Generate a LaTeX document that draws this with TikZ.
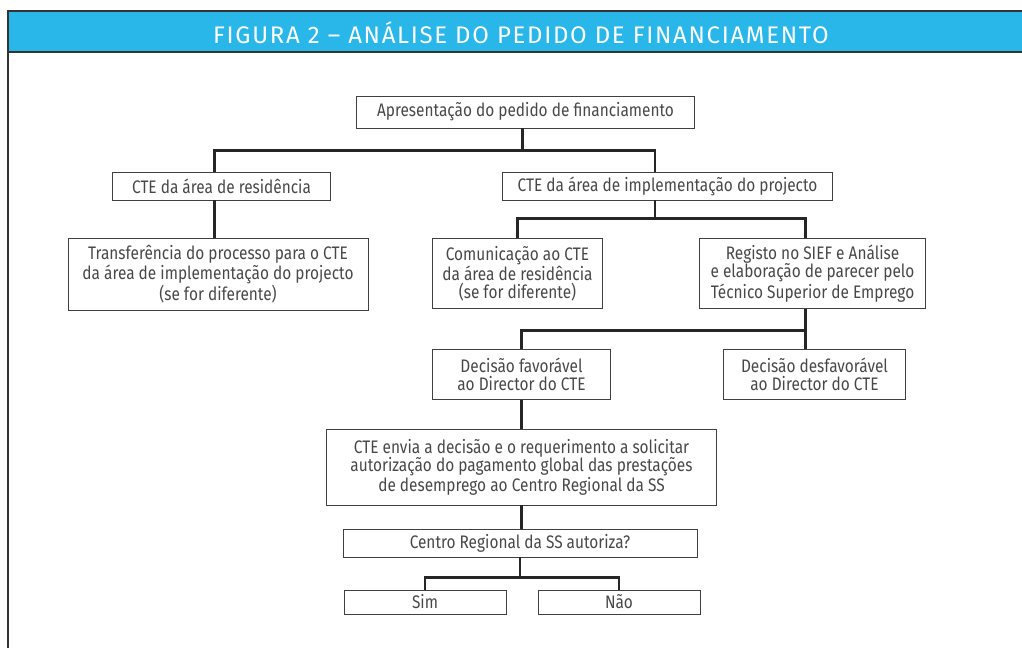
\documentclass[tikz,border=0pt]{standalone}
\usepackage{fontspec}
\setmainfont{Fira Sans}[FakeStretch=0.85]
\newfontfamily\titlefont{Fira Sans}[LetterSpace=7]
\usetikzlibrary{positioning}
\definecolor{figblue}{RGB}{41,182,233}
\definecolor{boxtext}{RGB}{72,72,72}

\begin{document}
\begin{tikzpicture}[x=0.75pt,y=-0.75pt,font=\fontsize{13.6}{13.6}\selectfont]
  \tikzstyle{box}=[draw=black!75, line width=0.7pt, text=boxtext, align=center, inner sep=0pt, minimum height=21pt]
  \tikzstyle{link}=[line width=2.2pt, black!85]

  % frame and title bar
  \useasboundingbox (0,0) rectangle (1022,648);
  \fill[figblue] (8,11) rectangle (1022,52);
  \draw[line width=1.5pt, black!80] (1022,11) -- (8,11) -- (8,648);
  \draw[line width=1.5pt, black!80] (8,52) -- (1022,52);
  \node[text=white, font=\titlefont\fontsize{18}{18}\selectfont] (title) at (521,33) {FIGURA 2 – ANÁLISE DO PEDIDO DE FINANCIAMENTO};

  \node[box, minimum width=254pt, minimum height=24pt] (apres) at (525.5,112) {Apresentação do pedido de financiamento};
  \node[box, minimum width=163pt] (res)  at (221.5,186) {CTE da área de residência};
  \node[box, minimum width=248pt] (impl) at (667.5,186) {CTE da área de implementação do projecto};

  \node[box, minimum width=225pt, minimum height=54pt] (transf) at (218,274)
       {Transferência do processo para o CTE\\da área de implementação do projecto\\(se for diferente)};
  \node[box, minimum width=128pt, minimum height=53pt] (comun) at (517.5,273.5)
       {Comunicação ao CTE\\da área de residência\\(se for diferente)};
  \node[box, minimum width=169pt, minimum height=53pt] (regist) at (812.5,273.5)
       {Registo no SIEF e Análise\\e elaboração de parecer pelo\\Técnico Superior de Emprego};

  \node[box, minimum width=134pt, minimum height=38pt] (fav)  at (521.5,374.5) {Decisão favorável\\ao Director do CTE};
  \node[box, minimum width=136pt, minimum height=38pt] (desf) at (814.5,374.5) {Decisão desfavorável\\ao Director do CTE};

  \node[box, minimum width=292pt, minimum height=57pt] (envia) at (521.5,467)
       {CTE envia a decisão e o requerimento a solicitar\\autorização do pagamento global das prestações\\de desemprego ao Centro Regional da SS};
  \node[box, minimum width=265.5pt] (centro) at (520,543) {Centro Regional da SS autoriza?};

  \node[box, minimum width=121.5pt, minimum height=18pt] (sim) at (425,602) {Sim};
  \node[box, minimum width=121.5pt, minimum height=18pt] (nao) at (619,602) {Não};

  % connectors
  \draw[link] ([xshift=-2pt]apres.south) -- ++(0,22) -| ([xshift=-5pt]res.north);
  \draw[link] ([xshift=-2pt]apres.south) -- ++(0,22) -| ([xshift=-9.4pt]impl.north);
  \draw[link] ([xshift=-5pt]res.south) -- ([xshift=-5pt]res.south |- transf.north);
  \draw[link] ([xshift=-9.4pt]impl.south) -- ++(0,18) -| (comun.north);
  \draw[link] ([xshift=-9.4pt]impl.south) -- ++(0,18) -| ([xshift=-5pt]regist.north);
  \draw[link] ([xshift=-5pt]regist.south) -- ++(0,21) -| (fav.north);
  \draw[link] ([xshift=-5pt]regist.south) -- ([xshift=-5pt]regist.south |- desf.north);
  \draw[link] (fav.south) -- (fav.south |- envia.north);
  \draw[link] (envia.south) -- (envia.south |- centro.north);
  \draw[link] (centro.south) -- ++(0,20) -| (sim.north);
  \draw[link] (centro.south) -- ++(0,20) -| (nao.north);
\end{tikzpicture}
\end{document}
